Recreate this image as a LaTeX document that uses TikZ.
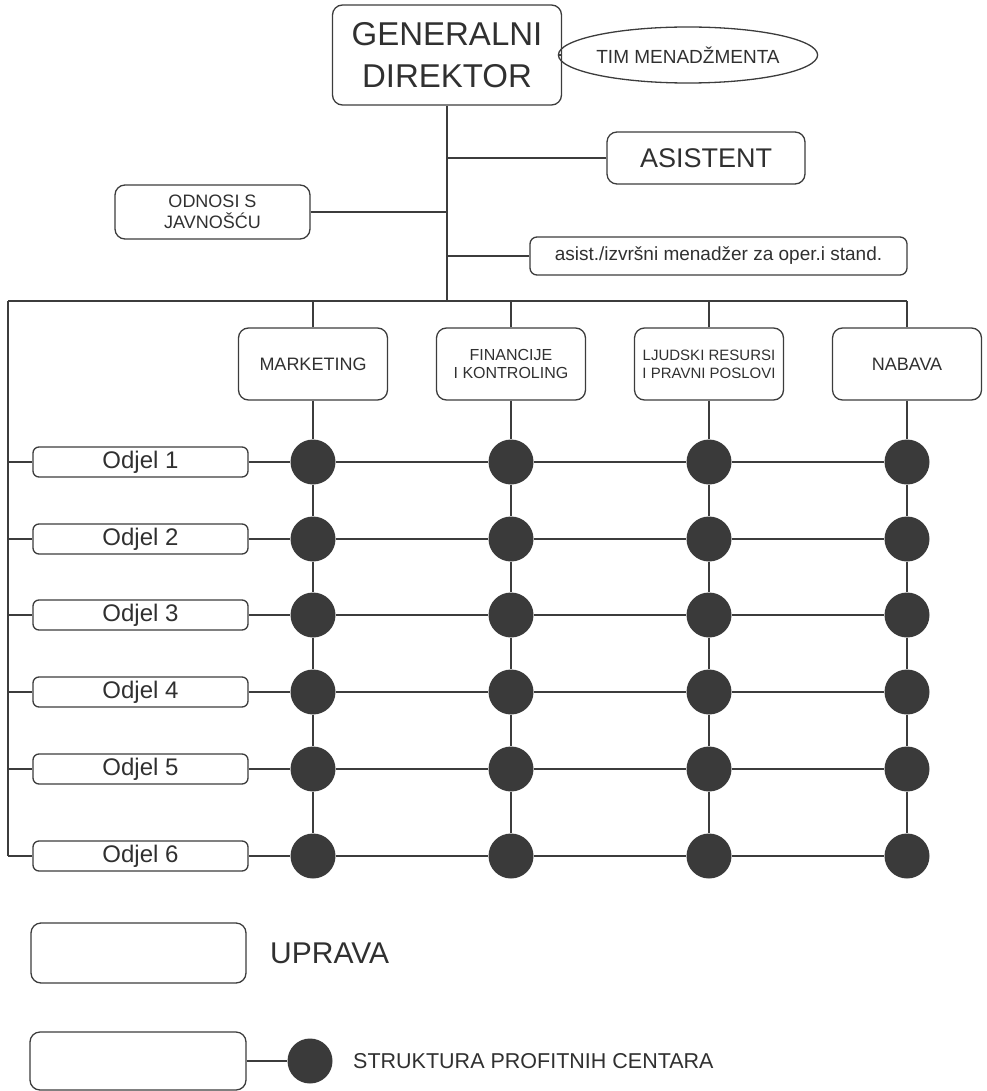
\documentclass[tikz,border=0pt]{standalone}
\usepackage{fontspec}
\setmainfont{Liberation Sans}
\usetikzlibrary{shapes.geometric}
\definecolor{ink}{HTML}{3C3C3C}
\definecolor{txt}{HTML}{303030}
\definecolor{dotc}{HTML}{3A3A3A}
\begin{document}
\begin{tikzpicture}[x=1pt,y=-1pt,
  box/.style={draw=ink, line width=1.3pt, rounded corners=10pt, inner sep=0pt, text=txt, align=center},
  obox/.style={box, rounded corners=6pt, minimum width=215pt, minimum height=30pt, font=\fontsize{24}{26}\selectfont},
  dbox/.style={box, minimum width=149pt, minimum height=72pt, font=\fontsize{18}{18.5}\selectfont},
  conn/.style={draw=ink, line width=1.3pt},
  pc/.style={circle, fill=dotc, draw=none, minimum size=45pt, inner sep=0pt},
  lbl/.style={text=txt, inner sep=0pt, anchor=west}
]
\useasboundingbox (0,0) rectangle (986,1091);
% top level
\node[box, minimum width=229pt, minimum height=100pt, font=\fontsize{33}{42}\selectfont] (gd) at (447,55) {GENERALNI\\DIREKTOR};
\node[draw=ink, line width=1.3pt, ellipse, minimum width=228pt, minimum height=56pt, inner sep=0pt, text=txt, font=\fontsize{19}{21}\selectfont] (tim) at (688,55) {TIM MENADŽMENTA};
\draw[conn] (gd) -- (tim);
\node[box, minimum width=198pt, minimum height=52pt, font=\fontsize{27}{30}\selectfont] (asis) at (706,158) {ASISTENT};
\node[box, minimum width=195pt, minimum height=54pt, font=\fontsize{18}{21}\selectfont] (odn) at (212.5,212) {ODNOSI S\\JAVNOŠĆU};
\node[box, rounded corners=7pt, minimum width=377pt, minimum height=38pt, font=\fontsize{19}{21}\selectfont] (asm) at (718.5,256) {asist./izvršni menadžer za oper.i stand.};
\coordinate (busT) at (447,301);
\coordinate (busL) at (8,301);
\coordinate (busR) at (907,301);
\draw[conn] (gd.south) -- (busT);
\draw[conn] (asis.west) -- (asis.west -| busT);
\draw[conn] (odn.east) -- (odn.east -| busT);
\draw[conn] (asm.west) -- (asm.west -| busT);
\draw[conn] (busL) -- (busR);
% departments
\node[dbox] (mkt) at (313,364) {MARKETING};
\node[dbox, font=\fontsize{16}{18}\selectfont] (fin) at (511,364) {FINANCIJE\\I KONTROLING};
\node[dbox, font=\fontsize{15}{18}\selectfont] (ljr) at (709,364) {LJUDSKI RESURSI\\I PRAVNI POSLOVI};
\node[dbox] (nab) at (907,364) {NABAVA};
\foreach \d in {mkt,fin,ljr,nab} \draw[conn] (\d.north) -- (\d.north |- busL);
% odjeli rows
\foreach \r/\y in {1/462,2/539,3/615,4/692,5/769,6/856} {
  \node[obox] (o\r) at (140.5,\y) {Odjel \r};
  \node[pc] (p\r a) at (313,\y) {};
  \node[pc] (p\r b) at (511,\y) {};
  \node[pc] (p\r c) at (709,\y) {};
  \node[pc] (p\r d) at (907,\y) {};
  \draw[conn] (busL |- o\r.west) -- (o\r.west);
  \draw[conn] (o\r.east) -- (p\r a) -- (p\r b) -- (p\r c) -- (p\r d);
}
\draw[conn] (busL) -- (busL |- o6.west);
\draw[conn] (mkt) -- (p1a) -- (p2a) -- (p3a) -- (p4a) -- (p5a) -- (p6a);
\draw[conn] (fin) -- (p1b) -- (p2b) -- (p3b) -- (p4b) -- (p5b) -- (p6b);
\draw[conn] (ljr) -- (p1c) -- (p2c) -- (p3c) -- (p4c) -- (p5c) -- (p6c);
\draw[conn] (nab) -- (p1d) -- (p2d) -- (p3d) -- (p4d) -- (p5d) -- (p6d);
% legend
\node[box, minimum width=215pt, minimum height=60pt] (lg1) at (138.5,953) {};
\node[lbl, font=\fontsize{30}{32}\selectfont] (lt1) at (270,953) {UPRAVA};
\node[box, minimum width=216pt, minimum height=58pt] (lg2) at (138,1061) {};
\node[pc] (lgp) at (310,1061) {};
\draw[conn] (lg2) -- (lgp);
\node[lbl, font=\fontsize{21.5}{23}\selectfont] (lt2) at (353,1061) {STRUKTURA PROFITNIH CENTARA};
\end{tikzpicture}
\end{document}
